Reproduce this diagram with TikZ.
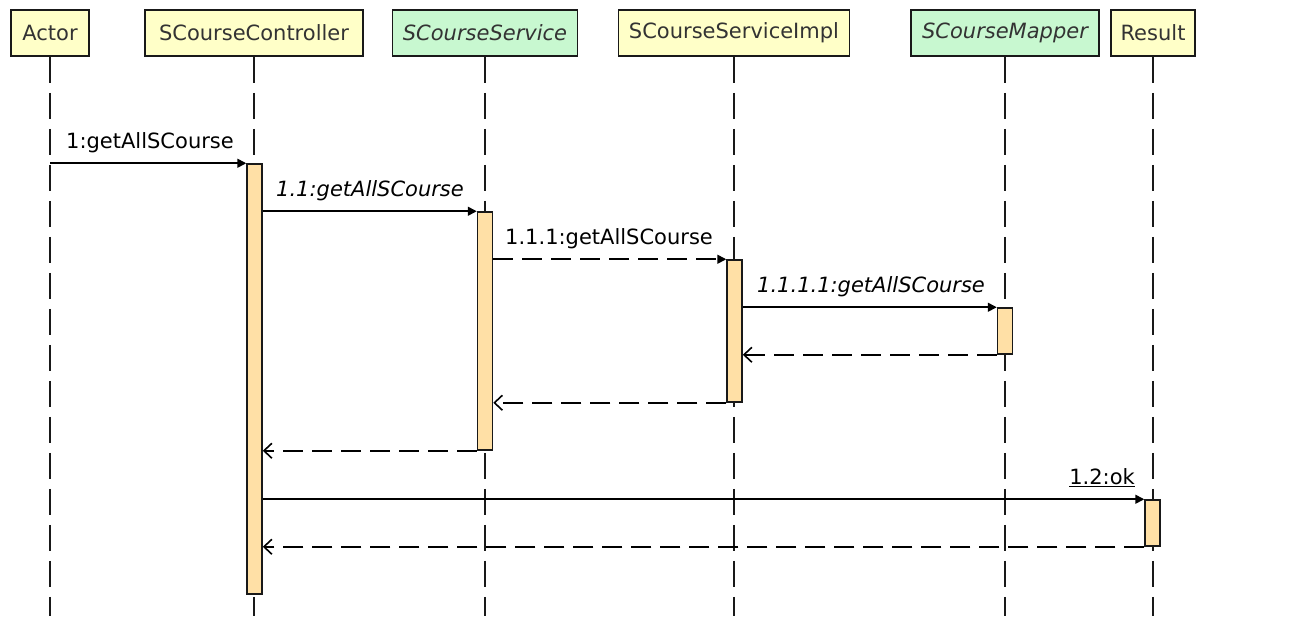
\documentclass[tikz,border=0pt]{standalone}
\usepackage{fontspec}
\setmainfont{DejaVu Sans}
\usetikzlibrary{arrows.meta}
\definecolor{hdryellow}{HTML}{FFFFC8}
\definecolor{hdrgreen}{HTML}{C8F8D0}
\definecolor{barfill}{HTML}{FFE0A6}
\definecolor{hdrtext}{HTML}{333333}
\begin{document}
\begin{tikzpicture}[x=1pt,y=-1pt,
  hdr/.style={draw=black!90, line width=1.6pt, minimum height=46pt, inner sep=0pt,
    font=\fontsize{21}{24}\selectfont, text=hdrtext},
  lifeline/.style={draw=black!90, line width=1.6pt, dash pattern=on 26pt off 10pt},
  actbar/.style={draw=black!90, fill=barfill, line width=1.5pt, minimum width=15pt, inner sep=0pt},
  call/.style={draw=black, line width=1.6pt, -{Triangle[length=9pt,width=9pt]}},
  asynccall/.style={call, dash pattern=on 20pt off 9pt},
  ret/.style={draw=black, line width=1.6pt, dash pattern=on 20pt off 9pt, -{Straight Barb[length=8pt,width=15pt,line width=1.6pt]}},
  lbl/.style={inner sep=0pt, font=\fontsize{21}{24}\selectfont, text=black}
]
\useasboundingbox (0,0) rectangle (1292,616);

% headers
\node[hdr, fill=hdryellow, minimum width=78pt]  (actor)  at (50,33)   {Actor};
\node[hdr, fill=hdryellow, minimum width=218pt] (ctrl)   at (254,33)  {SCourseController};
\node[hdr, fill=hdrgreen,  minimum width=185pt] (svc)    at (485,33)  {\itshape SCourseService};
\node[hdr, fill=hdryellow, minimum width=231pt] (impl)   at (734,33)  {SCourseServiceImpl};
\node[hdr, fill=hdrgreen,  minimum width=188pt] (mapper) at (1005,33) {\itshape SCourseMapper};
\node[hdr, fill=hdryellow, minimum width=84pt]  (result) at (1153,33) {Result};

% lifeline ends
\coordinate (actorEnd)  at (50,616);
\coordinate (ctrlEnd)   at (254,616);
\coordinate (svcEnd)    at (485,616);
\coordinate (implEnd)   at (734,616);
\coordinate (mapperEnd) at (1005,616);
\coordinate (resultEnd) at (1153,616);

\draw[lifeline] (actor.south)  -- (actorEnd);
\draw[lifeline] (ctrl.south)   -- (ctrlEnd);
\draw[lifeline] (svc.south)    -- (svcEnd);
\draw[lifeline] (impl.south)   -- (implEnd);
\draw[lifeline] (mapper.south) -- (mapperEnd);
\draw[lifeline] (result.south) -- (resultEnd);

% activation bars
\node[actbar, minimum height=430pt] (cbar) at (254.5,379)  {};
\node[actbar, minimum height=238pt] (sbar) at (485,331)    {};
\node[actbar, minimum height=142pt] (ibar) at (734.5,331)  {};
\node[actbar, minimum height=46pt]  (mbar) at (1005,331)   {};
\node[actbar, minimum height=46pt]  (rbar) at (1152.5,523) {};

% messages
\coordinate (m1s) at (actor.south |- cbar.north);
\draw[call] (m1s) -- (cbar.north west);
\node[lbl, anchor=base west] (l1) at (66,148) {1:getAllSCourse};

\coordinate (m2s) at (cbar.east |- sbar.north);
\draw[call] (m2s) -- (sbar.north west);
\node[lbl, anchor=base west] (l2) at (276,196) {\itshape 1.1:getAllSCourse};

\coordinate (m3s) at (sbar.east |- ibar.north);
\draw[asynccall] (m3s) -- (ibar.north west);
\node[lbl, anchor=base west] (l3) at (505,244) {1.1.1:getAllSCourse};

\coordinate (m4s) at (ibar.east |- mbar.north);
\draw[call] (m4s) -- (mbar.north west);
\node[lbl, anchor=base west] (l4) at (757,292) {\itshape 1.1.1.1:getAllSCourse};

\coordinate (r1e) at (ibar.east |- mbar.south);
\draw[ret] (mbar.south west) -- (r1e);

\coordinate (r2e) at (sbar.east |- ibar.south);
\draw[ret] (ibar.south west) -- (r2e);

\coordinate (r3e) at (cbar.east |- sbar.south);
\draw[ret] (sbar.south west) -- (r3e);

\coordinate (m5s) at (cbar.east |- rbar.north);
\draw[call] (m5s) -- (rbar.north west);
\node[lbl, anchor=base east] (l5) at (1135,484) {\underline{1.2:ok}};

\coordinate (r4e) at (cbar.east |- rbar.south);
\draw[ret] (rbar.south west) -- (r4e);
\end{tikzpicture}
\end{document}
